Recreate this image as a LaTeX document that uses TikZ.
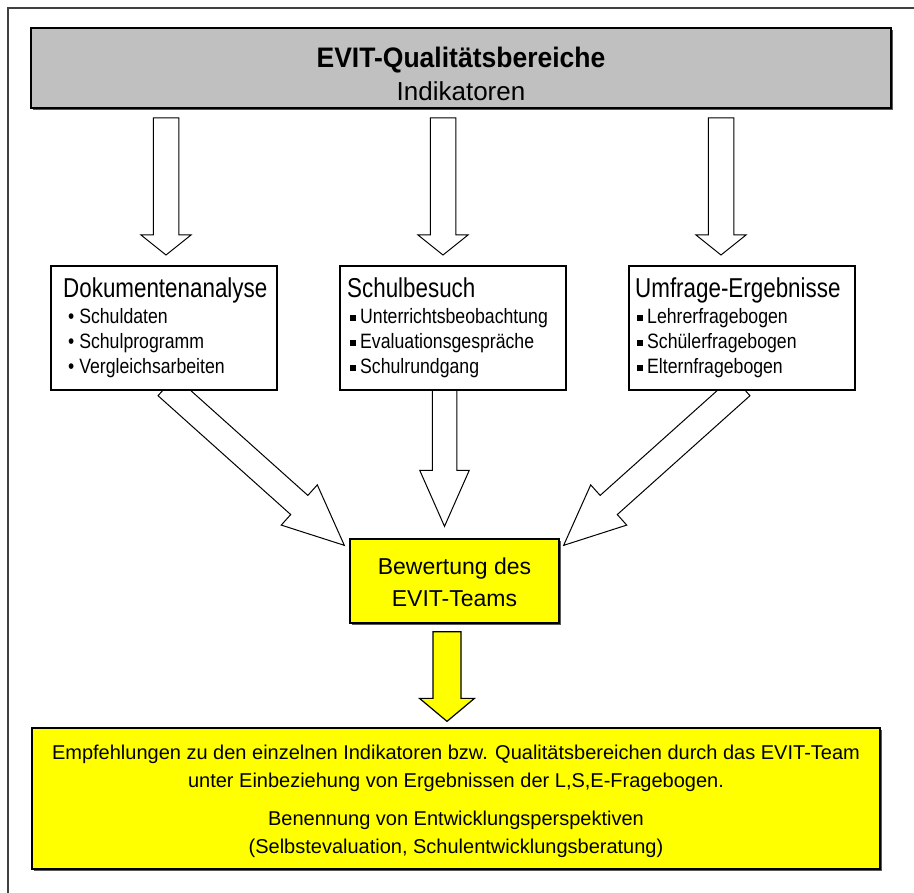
\documentclass[tikz,border=0pt]{standalone}
\usepackage{fontspec}
\setmainfont{Liberation Sans}
\newfontfamily\narrowhead[FakeStretch=0.82]{Liberation Sans}
\newfontfamily\narrowitem[FakeStretch=0.85]{Liberation Sans}
\newfontfamily\narrowtitle[FakeStretch=0.94]{Liberation Sans}
\usetikzlibrary{calc,shadows}
\pgfdeclarelayer{background}
\pgfsetlayers{background,main}
\definecolor{boxgray}{RGB}{192,192,192}
\definecolor{evyellow}{RGB}{255,255,0}
\newcommand\fTitle{\narrowtitle\fontsize{28.2}{30}\selectfont\bfseries}
\newcommand\fSub{\fontsize{26}{30}\selectfont}
\newcommand\fHead{\narrowhead\fontsize{27.3}{30}\selectfont}
\newcommand\fItem{\narrowitem\fontsize{20.8}{24}\selectfont}
\newcommand\fBew{\fontsize{23}{27}\selectfont}
\newcommand\fBot{\fontsize{20}{24}\selectfont}
\newcommand\sqb{\rule[3pt]{5.5pt}{5.5pt}\hspace{4.5pt}}
% block arrow: #1 style, #2 tail, #3 tip, #4 half shaft, #5 half head, #6 head length
\newcommand\blockarrow[6]{%
  \coordinate (ba-c) at ($(#3)!#6!(#2)$);
  \draw[#1] ($(#2)!#4!90:(#3)$) -- ($(ba-c)!#4!90:(#3)$) -- ($(ba-c)!#5!90:(#3)$)
    -- (#3) -- ($(ba-c)!#5!-90:(#3)$) -- ($(ba-c)!#4!-90:(#3)$) -- ($(#2)!#4!-90:(#3)$) -- cycle;
}
\tikzset{
  frameline/.style={draw=black!75, line width=1.5pt},
  box/.style={rectangle, draw=black, line width=1.3pt, inner sep=0pt, fill=white},
  shadowed/.style={general shadow={fill=black!65, shadow xshift=2pt, shadow yshift=-2pt}},
  graybox/.style={box, fill=boxgray, shadowed},
  yellowbox/.style={box, fill=evyellow, shadowed},
  whitebox/.style={box, general shadow={fill=black!40, shadow xshift=1pt, shadow yshift=-1pt}},
  blockarr/.style={draw=black, line width=1pt, fill=white, line join=miter},
  yellowarr/.style={draw=black, line width=1.2pt, fill=evyellow, line join=miter},
  txt/.style={inner sep=0pt, anchor=base},
  txtl/.style={inner sep=0pt, anchor=base west},
}
\begin{document}
\begin{tikzpicture}[x=1pt,y=-1pt]
\useasboundingbox (0,0) rectangle (914,893);
% outer frame (left and top edges)
\coordinate (fbl) at (8,893);
\coordinate (ftl) at (8,8);
\coordinate (ftr) at (914,8);
\draw[frameline] (fbl) -- (ftl) -- (ftr);

% boxes
\node[graybox, minimum width=860, minimum height=80] (top) at (461,68) {};
\node[whitebox, minimum width=226, minimum height=124] (b1) at (164,328) {};
\node[whitebox, minimum width=226, minimum height=124] (b2) at (453,328) {};
\node[whitebox, minimum width=226, minimum height=124] (b3) at (742,328) {};
\node[yellowbox, minimum width=209, minimum height=84] (bew) at (454.5,581) {};
\node[yellowbox, minimum width=848, minimum height=141] (bot) at (456,798.5) {};

% texts
\node[txt] (t1) at (461,68) {\fTitle EVIT-Qualitätsbereiche};
\node[txt] (t2) at (461,101) {\fSub Indikatoren};

\node[txtl] (b1h) at (63,298) {\fHead Dokumentenanalyse};
\node[txtl] (b1a) at (68,324) {\fItem • Schuldaten};
\node[txtl] (b1b) at (68,349) {\fItem • Schulprogramm};
\node[txtl] (b1c) at (68,374) {\fItem • Vergleichsarbeiten};

\node[txtl] (b2h) at (347,298) {\fHead Schulbesuch};
\node[txtl] (b2a) at (350,324) {\fItem \sqb Unterrichtsbeobachtung};
\node[txtl] (b2b) at (350,349) {\fItem \sqb Evaluationsgespräche};
\node[txtl] (b2c) at (350,374) {\fItem \sqb Schulrundgang};

\node[txtl] (b3h) at (635,298) {\fHead Umfrage-Ergebnisse};
\node[txtl] (b3a) at (637,324) {\fItem \sqb Lehrerfragebogen};
\node[txtl] (b3b) at (637,349) {\fItem \sqb Schülerfragebogen};
\node[txtl] (b3c) at (637,374) {\fItem \sqb Elternfragebogen};

\node[txt] (bw1) at (454.5,574) {\fBew Bewertung des};
\node[txt] (bw2) at (454.5,606) {\fBew EVIT-Teams};

\node[txt] (e1) at (456,759) {\fBot Empfehlungen zu den einzelnen Indikatoren bzw. Qualitätsbereichen durch das EVIT-Team};
\node[txt] (e2) at (456,787) {\fBot unter Einbeziehung von Ergebnissen der L,S,E-Fragebogen.};
\node[txt] (e3) at (456,825) {\fBot Benennung von Entwicklungsperspektiven};
\node[txt] (e4) at (456,853) {\fBot (Selbstevaluation, Schulentwicklungsberatung)};

% arrow end points
\coordinate (a1s) at (166,118);  \coordinate (a1e) at (166,255);
\coordinate (a2s) at (443,118);  \coordinate (a2e) at (443,255);
\coordinate (a3s) at (721,118);  \coordinate (a3e) at (721,255);
\coordinate (d1s) at ($(b1.south)+(2.6,-4.5)$);
\coordinate (d1e) at ($(bew.north west)+(-5,7)$);
\coordinate (d2s) at ($(b2.south)+(-8.5,-5)$);
\coordinate (d2e) at ($(bew.north)+(-10,-12)$);
\coordinate (d3s) at ($(b3.south)+(-0.6,-4.5)$);
\coordinate (d3e) at ($(bew.north east)+(4,7)$);
\coordinate (ys) at ($(bew.south)+(-7.5,8)$);
\coordinate (ye) at ($(bot.north)+(-9,-6)$);

\begin{pgfonlayer}{background}
\blockarrow{blockarr}{a1s}{a1e}{12.75pt}{25pt}{20pt}
\blockarrow{blockarr}{a2s}{a2e}{12.75pt}{25pt}{20pt}
\blockarrow{blockarr}{a3s}{a3e}{12.75pt}{25pt}{20pt}
\blockarrow{blockarr}{d1s}{d1e}{12.85pt}{27pt}{60.5pt}
\blockarrow{blockarr}{d2s}{d2e}{12.25pt}{24.75pt}{56pt}
\blockarrow{blockarr}{d3s}{d3e}{12.85pt}{27pt}{60.5pt}
\blockarrow{yellowarr}{ys}{ye}{14pt}{27.5pt}{23pt}
\end{pgfonlayer}
\end{tikzpicture}
\end{document}
